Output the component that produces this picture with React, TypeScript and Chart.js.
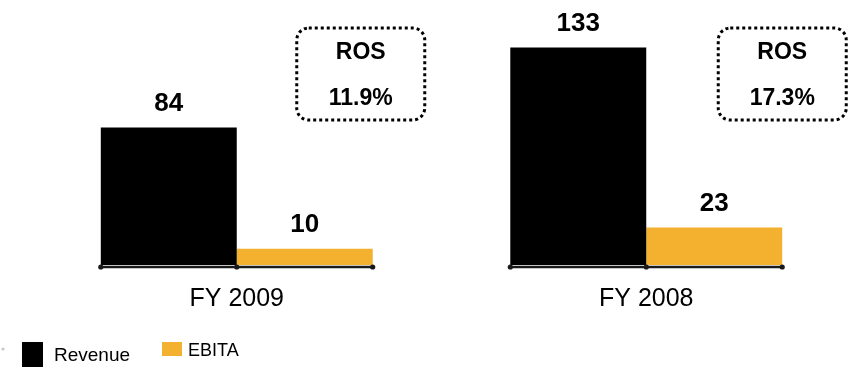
import React, { useEffect, useRef } from 'react';
import { Chart, registerables } from 'chart.js';

Chart.register(...registerables);

const categories = ['FY 2009', 'FY 2008'];
const seriesNames = ['Revenue', 'EBITA'];
const revenue = [84, 133];
const ebita = [10, 23];
const rosTitles = ['ROS', 'ROS'];
const rosValues = ['11.9%', '17.3%'];

const COLORS = ['#000000', '#F3B12F'];
const SANS = "'Liberation Sans', Arial, sans-serif";

const valueLabelPlugin = {
  id: 'valueLabels',
  afterDatasetsDraw(chart: any) {
    const ctx = chart.ctx;
    ctx.save();
    ctx.fillStyle = '#000';
    ctx.font = `bold 26px ${SANS}`;
    ctx.textAlign = 'center';
    ctx.textBaseline = 'middle';
    chart.data.datasets.forEach((ds: any, di: number) => {
      const meta = chart.getDatasetMeta(di);
      meta.data.forEach((el: any, i: number) => {
        ctx.fillText(String(ds.data[i]), el.x, el.y - 24);
      });
    });
    ctx.restore();
  },
};

const axisSegmentsPlugin = {
  id: 'axisSegments',
  afterDatasetsDraw(chart: any) {
    const ctx = chart.ctx;
    const m0 = chart.getDatasetMeta(0);
    const m1 = chart.getDatasetMeta(1);
    const y = chart.chartArea.bottom + 2;
    ctx.save();
    ctx.strokeStyle = '#1a1a1a';
    ctx.fillStyle = '#1a1a1a';
    ctx.lineWidth = 2.5;
    m0.data.forEach((el: any, i: number) => {
      const e1 = m1.data[i];
      const left = el.x - el.width / 2;
      const mid = el.x + el.width / 2;
      const right = e1.x + e1.width / 2;
      ctx.beginPath();
      ctx.moveTo(left, y);
      ctx.lineTo(right, y);
      ctx.stroke();
      [left, mid, right].forEach((px) => {
        ctx.beginPath();
        ctx.arc(px, y, 2.6, 0, Math.PI * 2);
        ctx.fill();
      });
    });
    ctx.restore();
  },
};

const rosBoxPlugin = {
  id: 'rosBoxes',
  afterDraw(chart: any, _args: any, opts: any) {
    const ctx = chart.ctx;
    const xs = chart.scales.x;
    ctx.save();
    categories.forEach((_c, i) => {
      const cx = xs.getPixelForValue(i) + opts.offsets[i];
      const w = opts.width;
      const h = opts.height;
      const x0 = cx - w / 2;
      const y0 = opts.top;
      const r = 12;
      ctx.beginPath();
      ctx.moveTo(x0 + r, y0);
      ctx.lineTo(x0 + w - r, y0);
      ctx.arcTo(x0 + w, y0, x0 + w, y0 + r, r);
      ctx.lineTo(x0 + w, y0 + h - r);
      ctx.arcTo(x0 + w, y0 + h, x0 + w - r, y0 + h, r);
      ctx.lineTo(x0 + r, y0 + h);
      ctx.arcTo(x0, y0 + h, x0, y0 + h - r, r);
      ctx.lineTo(x0, y0 + r);
      ctx.arcTo(x0, y0, x0 + r, y0, r);
      ctx.closePath();
      ctx.setLineDash([3, 3]);
      ctx.lineWidth = 3;
      ctx.strokeStyle = '#000';
      ctx.stroke();
      ctx.setLineDash([]);
      ctx.fillStyle = '#000';
      ctx.textAlign = 'center';
      ctx.textBaseline = 'middle';
      ctx.font = `bold 23px ${SANS}`;
      ctx.fillText(rosTitles[i], cx, y0 + 25);
      ctx.fillText(rosValues[i], cx, y0 + 71);
    });
    ctx.restore();
  },
};

const legendPlugin = {
  id: 'customLegend',
  afterDraw(chart: any) {
    const ctx = chart.ctx;
    ctx.save();
    ctx.fillStyle = '#c8c8c8';
    ctx.beginPath();
    ctx.arc(3, 349, 1.6, 0, Math.PI * 2);
    ctx.fill();
    const items = [
      { box: [22, 342, 21, 25], textX: 54, textY: 356, font: `19px ${SANS}` },
      { box: [162, 342, 20, 14], textX: 188, textY: 351, font: `18px ${SANS}` },
    ];
    chart.data.datasets.forEach((ds: any, i: number) => {
      const it = items[i];
      ctx.fillStyle = ds.backgroundColor;
      ctx.fillRect(it.box[0], it.box[1], it.box[2], it.box[3]);
      ctx.fillStyle = '#000';
      ctx.font = it.font;
      ctx.textAlign = 'left';
      ctx.textBaseline = 'middle';
      ctx.fillText(ds.label, it.textX, it.textY);
    });
    ctx.restore();
  },
};

export default function App() {
  const ref = useRef<HTMLCanvasElement | null>(null);
  useEffect(() => {
    if (!ref.current) return;
    const chart = new Chart(ref.current, {
      type: 'bar',
      data: {
        labels: categories,
        datasets: [
          { label: seriesNames[0], data: revenue, backgroundColor: COLORS[0], categoryPercentage: 0.664, barPercentage: 1 },
          { label: seriesNames[1], data: ebita, backgroundColor: COLORS[1], categoryPercentage: 0.664, barPercentage: 1 },
        ],
      },
      options: {
        animation: false,
        responsive: true,
        maintainAspectRatio: false,
        layout: { padding: { left: 32, right: 1, top: 0, bottom: 32 } },
        plugins: {
          legend: { display: false },
          tooltip: { enabled: false },
          rosBoxes: { offsets: [124, 136], width: 128, height: 92, top: 28 },
        } as any,
        scales: {
          x: {
            grid: { display: false, drawTicks: false },
            border: { display: false },
            ticks: { color: '#000', font: { family: SANS, size: 25 }, padding: 19 },
            afterFit: (scale: any) => { scale.height = 70; },
          },
          y: { display: false, min: 0, max: 162 },
        },
      },
      plugins: [valueLabelPlugin, axisSegmentsPlugin, rosBoxPlugin, legendPlugin],
    });
    return () => chart.destroy();
  }, []);
  return (
    <div style={{ position: 'absolute', left: 0, top: 0, width: 852, height: 367, background: '#fff' }}>
      <canvas ref={ref} />
    </div>
  );
}
